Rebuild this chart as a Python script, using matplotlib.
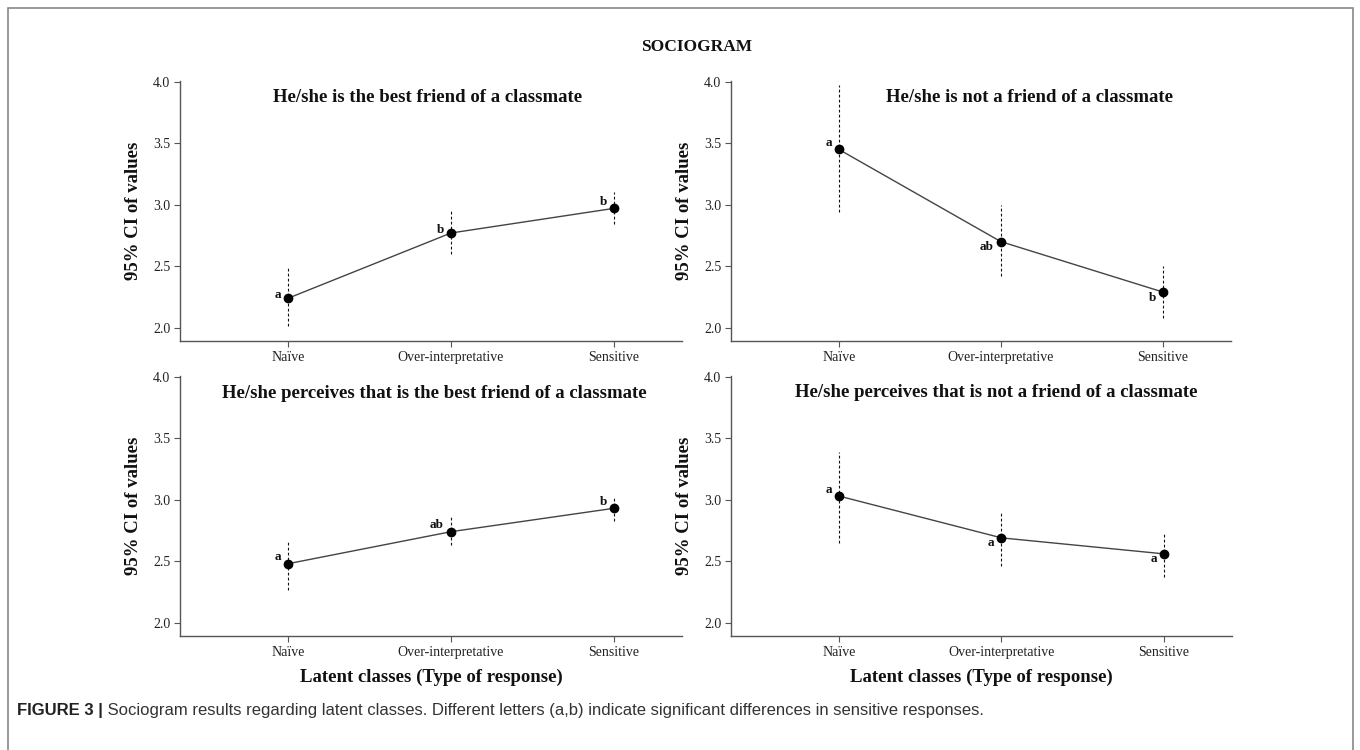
import matplotlib
matplotlib.use('Agg')
import matplotlib.pyplot as plt
from matplotlib.patches import Rectangle

# ---------------- data ----------------
categories = ['Naïve', 'Over-interpretative', 'Sensitive']

title_tl = 'He/she is the best friend of a classmate'
title_tr = 'He/she is not a friend of a classmate'
title_bl = 'He/she perceives that is the best friend of a classmate'
title_br = 'He/she perceives that is not a friend of a classmate'

mean_tl = [2.24, 2.77, 2.97]
low_tl = [2.01, 2.60, 2.84]
high_tl = [2.50, 2.95, 3.10]
letters_tl = ['a', 'b', 'b']

mean_tr = [3.45, 2.70, 2.29]
low_tr = [2.94, 2.42, 2.08]
high_tr = [3.97, 3.00, 2.50]
letters_tr = ['a', 'ab', 'b']

mean_bl = [2.48, 2.74, 2.93]
low_bl = [2.27, 2.63, 2.83]
high_bl = [2.66, 2.87, 3.03]
letters_bl = ['a', 'ab', 'b']

mean_br = [3.03, 2.69, 2.56]
low_br = [2.65, 2.46, 2.37]
high_br = [3.39, 2.91, 2.73]
letters_br = ['a', 'a', 'a']

y_ticks = [2.0, 2.5, 3.0, 3.5, 4.0]
y_tick_labels = ['2.0', '2.5', '3.0', '3.5', '4.0']

main_title = 'SOCIOGRAM'
y_label = '95% CI of values'
x_label = 'Latent classes (Type of response)'
caption_bold = 'FIGURE 3 |'
caption_text = ' Sociogram results regarding latent classes. Different letters (a,b) indicate significant differences in sensitive responses.'

# ---------------- style ----------------
SERIF = ['Liberation Serif', 'DejaVu Serif']
SANS = ['Liberation Sans', 'DejaVu Sans']
plt.rcParams['font.family'] = SERIF

W, H = 1360, 750
fig = plt.figure(figsize=(W / 100, H / 100), dpi=100)


def fx(px):
    return px / W


def fy(py):
    return 1 - py / H


# panel geometry (pixels): left, right, top, bottom
panels = [
    dict(box=(180, 682, 80.5, 341), title=title_tl, tx=0.494, ha='center', ty=16.5,
         m=mean_tl, lo=low_tl, hi=high_tl, let=letters_tl, side=['mid', 'mid', 'above'], xlabel=False),
    dict(box=(731, 1231, 80.5, 341), title=title_tr, tx=0.309, ha='left', ty=17,
         m=mean_tr, lo=low_tr, hi=high_tr, let=letters_tr, side=['above', 'below', 'below'], xlabel=False),
    dict(box=(180, 682, 375.5, 636), title=title_bl, tx=0.506, ha='center', ty=17.5,
         m=mean_bl, lo=low_bl, hi=high_bl, let=letters_bl, side=['above', 'above', 'above'], xlabel=True),
    dict(box=(731, 1232, 375.5, 636), title=title_br, tx=0.932, ha='right', ty=17,
         m=mean_br, lo=low_br, hi=high_br, let=letters_br, side=['above', 'below', 'below'], xlabel=True),
]

side_offset = {'mid': 2, 'above': 4.5, 'below': -4}
spine_col = '#555555'
text_col = '#222222'

x_pos = list(range(1, len(categories) + 1))

for p in panels:
    l, r, t, b = p['box']
    ax = fig.add_axes([fx(l), fy(b), fx(r) - fx(l), (b - t) / H])
    for s in ['top', 'right']:
        ax.spines[s].set_visible(False)
    for s in ['left', 'bottom']:
        ax.spines[s].set_color(spine_col)
        ax.spines[s].set_linewidth(1.0)
    ax.set_xlim(0.335, 3.42)
    ax.set_ylim(1.892, 4.01)
    ax.set_yticks(y_ticks)
    ax.set_yticklabels(y_tick_labels)
    ax.set_xticks(x_pos)
    ax.set_xticklabels(categories)
    ax.tick_params(axis='both', colors=spine_col, labelcolor=text_col,
                   labelsize=10, length=4, width=0.8, pad=3)
    for lab in ax.get_xticklabels() + ax.get_yticklabels():
        lab.set_family(SERIF)

    ax.vlines(x_pos, p['lo'], p['hi'], colors='#111111', linewidth=0.8,
              linestyles=(0, (2.5, 2)), zorder=2)
    ax.plot(x_pos, p['m'], color='#444444', linewidth=1.0, zorder=3)
    ax.plot(x_pos, p['m'], linestyle='none', marker='o', markersize=6,
            color='black', zorder=4)
    for xi, yi, lt, sd in zip(x_pos, p['m'], p['let'], p['side']):
        ax.annotate(lt, (xi, yi), xytext=(-5, side_offset[sd]),
                    textcoords='offset points', ha='right', va='center',
                    fontsize=9.5, fontweight='bold', color='#111111', family=SERIF)

    ax.text(p['tx'], 1 - p['ty'] / (b - t), p['title'], transform=ax.transAxes,
            ha=p['ha'], va='center', fontsize=13.5, fontweight='bold', color='#111111', family=SERIF)

    ax.set_ylabel(y_label, fontsize=13.5, fontweight='bold', color='#111111', family=SERIF, labelpad=8)
    if p['xlabel']:
        ax.set_xlabel(x_label, fontsize=13.5, fontweight='bold', color='#111111', family=SERIF, labelpad=7)

fig.text(0.512, fy(47), main_title, ha='center', va='center', fontsize=12.5,
         fontweight='bold', color='#111111', family=SERIF)

t1 = fig.text(fx(17), fy(711), caption_bold, ha='left', va='center', fontsize=12,
              fontweight='bold', color='#222222', family=SANS)
fig.canvas.draw()
bb = t1.get_window_extent()
fig.text(bb.x1 / W, fy(711), caption_text, ha='left', va='center', fontsize=12,
         color='#333333', family=SANS)

frame = Rectangle((fx(8), -0.05), fx(1353) - fx(8), fy(8) + 0.05, transform=fig.transFigure,
                  fill=False, edgecolor='#888888', linewidth=1.2, clip_on=False)
fig.patches.append(frame)

fig.savefig('out.png', dpi=100, facecolor='white')
